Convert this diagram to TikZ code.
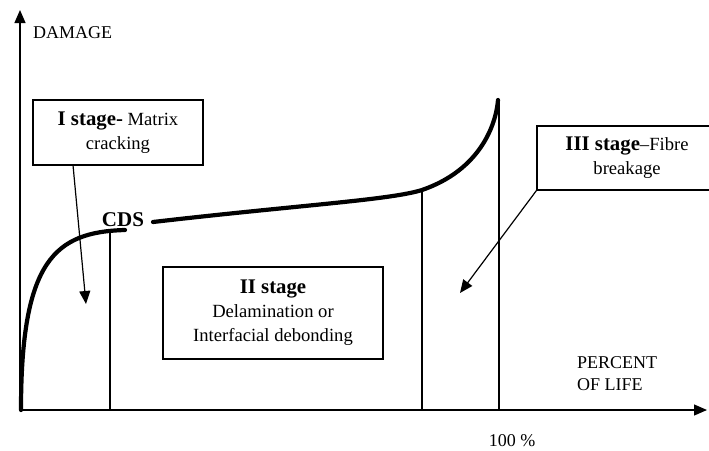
\documentclass[tikz,border=0pt]{standalone}
\usepackage{fontspec}
\setmainfont{Liberation Serif}
\usetikzlibrary{arrows.meta}
\tikzset{>={Triangle[length=13pt,width=11pt]}}
\tikzset{
  guide/.style={line width=1.2pt},
  lifecurve/.style={line width=4.2pt, line cap=round},
  stagebox/.style={draw, line width=1.2pt, align=center, inner sep=0pt, font=\fontsize{18.6}{24}\selectfont},
  axislabel/.style={font=\fontsize{18}{22}\selectfont, align=left, inner sep=0pt},
}
\newcommand{\stagename}[1]{{\fontsize{20.8}{24}\selectfont\bfseries #1}}

\begin{document}
\begin{tikzpicture}[x=1pt,y=-1pt]
	\useasboundingbox (0,0) rectangle (709,450);
	% axes
	\coordinate (origin) at (20,410);
	\coordinate (ytip) at (20,10);
	\coordinate (xtip) at (707,410);
	\draw[guide,->] (origin) -- (ytip);
	\draw[guide,->] (origin) -- (xtip);
	\node[axislabel, anchor=west] (damage) at (33,33) {DAMAGE};
	\node[axislabel, anchor=west] (life) at (577,374) {PERCENT\\OF LIFE};
	\node[axislabel] (full) at (512,441) {100 \%};

	% damage curve, broken at CDS
	\node[font=\fontsize{21}{24}\selectfont\bfseries, inner sep=0pt] (cds) at (123,220) {CDS};
	\draw[lifecurve] (21,410) .. controls (21,260) and (55,232) .. (125,230);
	\draw[lifecurve] (153,222) .. controls (300,205) and (390,200) .. (422,190)
		.. controls (480,170) and (496,125) .. (498,100);

	% stage limits
	\draw[guide] (110,232) -- (110,410);
	\draw[guide] (422,190) -- (422,410);
	\draw[guide] (499,100) -- (499,410);

	% stage boxes
	\node[stagebox, minimum width=170pt, minimum height=65pt] (stageI) at (118,132.5)
		{\stagename{I stage-} Matrix\\cracking};
	\node[stagebox, minimum width=220pt, minimum height=92pt] (stageII) at (273,313)
		{\stagename{II stage}\\Delamination or\\Interfacial debonding};
	\node[stagebox, minimum width=180pt, minimum height=64pt] (stageIII) at (627,158)
		{\stagename{III stage}--Fibre\\breakage};

	\coordinate (ifoot) at (73,165);
	\coordinate (itip) at (86,304);
	\coordinate (iiitip) at (460,293);
	\draw[guide,->] (ifoot) -- (itip);
	\draw[guide,->] (stageIII.south west) -- (iiitip);
\end{tikzpicture}
\end{document}
